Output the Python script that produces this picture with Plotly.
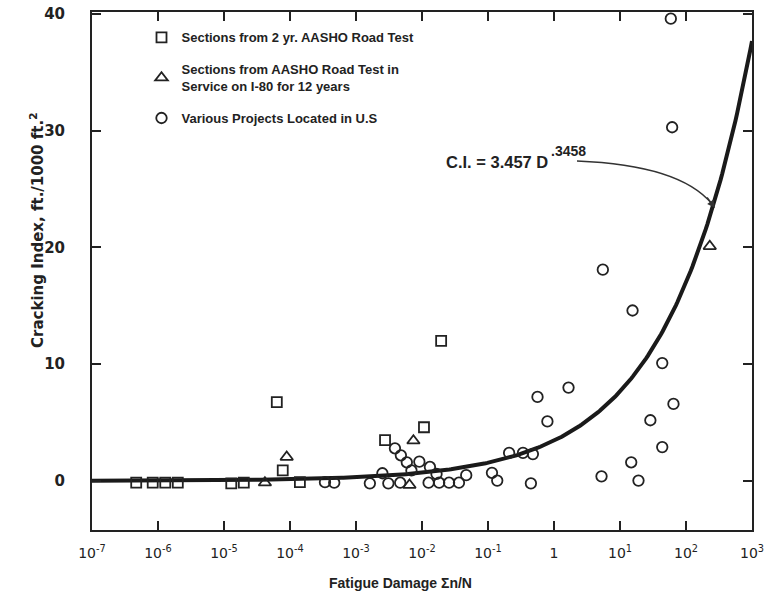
import numpy as np
import plotly.graph_objects as go

# ---- data ----
# Sections from 2 yr. AASHO Road Test (squares): log10(D), cracking index
sq_logD = [-6.33, -6.08, -5.89, -5.70, -4.89, -4.70, -3.85, -4.20, -4.11, -2.56, -1.97, -1.71]
sq_ci   = [-0.15, -0.15, -0.15, -0.15, -0.20, -0.15, -0.10, 6.75, 0.90, 3.50, 4.60, 12.0]

# Sections from AASHO Road Test in service on I-80 for 12 years (triangles)
tr_logD = [-4.38, -4.05, -2.13, -2.19, 2.36]
tr_ci   = [-0.15, 2.05, 3.45, -0.35, 20.1]

# Various projects located in U.S (circles)
ci_logD = [-3.47, -3.33, -2.79, -2.60, -2.51, -2.41, -2.33, -2.32, -2.23, -2.16, -2.04,
           -1.90, -1.88, -1.78, -1.74, -1.59, -1.44, -1.33, -0.94, -0.86, -0.68, -0.47,
           -0.35, -0.32, -0.25, -0.10, 0.22, 0.72, 0.74, 1.17, 1.19, 1.28, 1.46, 1.64,
           1.64, 1.81, 1.77, 1.79]
ci_ci   = [-0.10, -0.15, -0.20, 0.66, -0.20, 2.80, -0.15, 2.20, 1.60, 0.90, 1.65,
           -0.15, 1.20, 0.60, -0.15, -0.15, -0.15, 0.50, 0.70, 0.03, 2.40, 2.40,
           -0.20, 2.30, 7.20, 5.10, 8.00, 0.40, 18.1, 1.60, 14.6, 0.03, 5.20, 10.1,
           2.90, 6.60, 39.6, 30.3]

# fitted relation printed on the chart: C.I. = 3.457 D^.3458
fit_a = 3.457
fit_b = 0.3458

x_tickvals = [1e-7, 1e-6, 1e-5, 1e-4, 1e-3, 1e-2, 1e-1, 1, 10, 100, 1000]
x_ticktext = ["10<sup>-7</sup>", "10<sup>-6</sup>", "10<sup>-5</sup>", "10<sup>-4</sup>",
              "10<sup>-3</sup>", "10<sup>-2</sup>", "10<sup>-1</sup>", "1",
              "10<sup>1</sup>", "10<sup>2</sup>", "10<sup>3</sup>"]
y_tickvals = [0, 10, 20, 30, 40]

# ---- figure ----
W, H = 770, 599
ML, MR, MT, MB = 92, 18, 12, 69

fig = go.Figure()

D_curve = np.logspace(-7, 3, 400)
fig.add_trace(go.Scatter(x=D_curve, y=fit_a * D_curve ** fit_b, mode="lines",
                         line=dict(color="#1a1a1a", width=4), showlegend=False,
                         hoverinfo="skip"))

mk_line = dict(color="#222222", width=1.8)
fig.add_trace(go.Scatter(x=[10 ** v for v in sq_logD], y=sq_ci, mode="markers",
                         name="Sections from 2 yr. AASHO Road Test", legendgroup="a",
                         marker=dict(symbol="square-open", size=10, color="#222222", line=mk_line)))
fig.add_trace(go.Scatter(x=[10 ** v for v in tr_logD], y=tr_ci, mode="markers",
                         name="Sections from AASHO Road Test in<br>Service on I-80 for 12 years",
                         legendgroup="b",
                         marker=dict(symbol="triangle-up-open", size=11, color="#222222", line=mk_line)))
fig.add_trace(go.Scatter(x=[10 ** v for v in ci_logD], y=ci_ci, mode="markers",
                         name="Various Projects Located in U.S", legendgroup="c",
                         marker=dict(symbol="circle-open", size=10.5, color="#222222", line=mk_line)))

font_main = "DejaVu Sans"
font_title = "Liberation Sans"

fig.update_layout(
    width=W, height=H,
    margin=dict(l=ML, r=MR, t=MT, b=MB, autoexpand=False),
    paper_bgcolor="white", plot_bgcolor="white",
    font=dict(family=font_main, color="#222222", size=13),
    legend=dict(x=0.075, y=0.98, xanchor="left", yanchor="top",
                bgcolor="rgba(0,0,0,0)",
                font=dict(size=13, family=font_title, weight="bold", color="#222222"),
                tracegroupgap=12, itemwidth=30),
    xaxis=dict(type="log", range=[-7, 3], tickvals=x_tickvals, ticktext=x_ticktext,
               ticks="inside", ticklen=9, tickwidth=1.5, tickcolor="#222222",
               showline=True, linecolor="#222222", linewidth=2, mirror="allticks",
               showgrid=False, zeroline=False, tickfont=dict(size=14),
               ticklabelstandoff=9),
    yaxis=dict(range=[-4.2, 40.17], tickvals=y_tickvals,
               ticks="inside", ticklen=9, tickwidth=1.5, tickcolor="#222222",
               showline=True, linecolor="#222222", linewidth=2, mirror="allticks",
               showgrid=False, zeroline=False, tickfont=dict(size=15, weight="bold"),
               ticklabelstandoff=22),
)

def px2paper(px, py):
    return (px - ML) / (W - ML - MR), 1 - (py - MT) / (H - MT - MB)

# axis titles
fig.add_annotation(text="Fatigue Damage Σn/N", xref="paper", yref="paper",
                   x=px2paper(400, 0)[0], y=px2paper(0, 583)[1], showarrow=False,
                   font=dict(size=14, family=font_title, weight="bold"),
                   xanchor="center", yanchor="middle")
fig.add_annotation(text="Cracking Index, ft./1000 ft.<sup>2</sup>", xref="paper", yref="paper",
                   x=px2paper(37, 0)[0], y=px2paper(0, 230)[1], showarrow=False, textangle=-90,
                   font=dict(size=15, family=font_main, weight="bold"),
                   xanchor="center", yanchor="middle")

# equation label with curved leader arrow
ex, ey = px2paper(444, 162)
fig.add_annotation(text="C.I. = 3.457 D", xref="paper", yref="paper",
                   x=ex, y=ey, xanchor="left", yanchor="middle", showarrow=False,
                   font=dict(size=16.5, family=font_title, weight="bold"))
sx, sy = px2paper(549, 151)
fig.add_annotation(text=".3458", xref="paper", yref="paper",
                   x=sx, y=sy, xanchor="left", yanchor="middle", showarrow=False,
                   font=dict(size=14, family=font_title, weight="bold"))

def pp(px, py):
    a, b = px2paper(px, py)
    return f"{a:.5f},{b:.5f}"

fig.add_shape(type="path", xref="paper", yref="paper",
              path=f"M {pp(577,161)} Q {pp(680,165)} {pp(712,204)}",
              line=dict(color="#333333", width=1.3))
hx, hy = px2paper(715, 208)
fig.add_annotation(x=hx, y=hy, xref="paper", yref="paper", ax=-9, ay=-12,
                   text="", showarrow=True, arrowhead=2, arrowsize=1.2,
                   arrowwidth=1.3, arrowcolor="#333333")

fig.write_html("out.html")
